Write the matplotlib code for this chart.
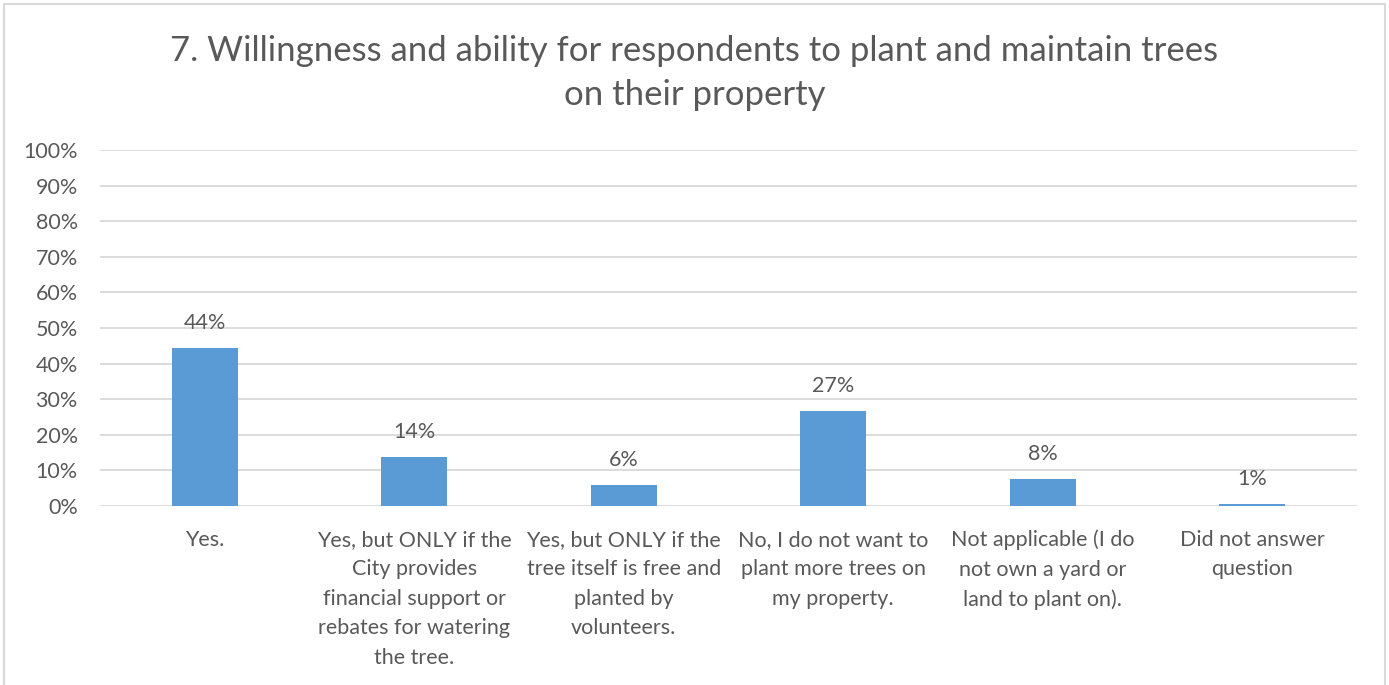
import math
import matplotlib
matplotlib.use("Agg")
import matplotlib.pyplot as plt
from matplotlib.patches import Rectangle

categories = [
    "Yes.",
    "Yes, but ONLY if the\nCity provides\nfinancial support or\nrebates for watering\nthe tree.",
    "Yes, but ONLY if the\ntree itself is free and\nplanted by\nvolunteers.",
    "No, I do not want to\nplant more trees on\nmy property.",
    "Not applicable (I do\nnot own a yard or\nland to plant on).",
    "Did not answer\nquestion",
]
shares = [44.4, 13.8, 5.9, 26.8, 7.6, 0.5]
y_ticks = list(range(0, 101, 10))
title = "7. Willingness and ability for respondents to plant and maintain trees\non their property"

BAR = "#5B9BD5"
TXT = "#595959"
GRID = "#D9D9D9"
FONT = ["Lato", "DejaVu Sans"]

plt.rcParams["font.family"] = FONT

fig = plt.figure(figsize=(13.89, 6.85), dpi=100)
fig.patches.append(Rectangle((4 / 1389, -0.01), 1381 / 1389, 1.0 - 4 / 685 + 0.01,
                             transform=fig.transFigure, fill=False,
                             edgecolor="#D9D9D9", linewidth=1.5))

ax = fig.add_axes([100 / 1389, 1 - 506 / 685, 1257 / 1389, 356 / 685])
x = list(range(len(categories)))
ax.bar(x, shares, width=0.315, color=BAR, zorder=3)
for xi, v in zip(x, shares):
    ax.text(xi, v + 4.2, f"{math.floor(v + 0.5)}%", ha="center", va="bottom",
            fontsize=15.5, color=TXT)

ax.set_xlim(-0.5, len(categories) - 0.5)
ax.set_ylim(0, 100)
ax.set_yticks(y_ticks)
ax.set_yticklabels([f"{t}%" for t in y_ticks])
ax.set_xticks(x)
ax.set_xticklabels(categories, linespacing=1.6, va="top", fontsize=15.5)
ax.tick_params(axis="both", length=0, labelcolor=TXT)
ax.tick_params(axis="y", pad=16, labelsize=15.5)
ax.tick_params(axis="x", pad=17)
ax.grid(axis="y", color=GRID, linewidth=1.3, zorder=0)
for s in ax.spines.values():
    s.set_visible(False)

fig.text(0.5, 1 - 73 / 685, title, ha="center", va="center", fontsize=25,
         color=TXT, linespacing=1.45)

fig.savefig("out.png", dpi=100)
